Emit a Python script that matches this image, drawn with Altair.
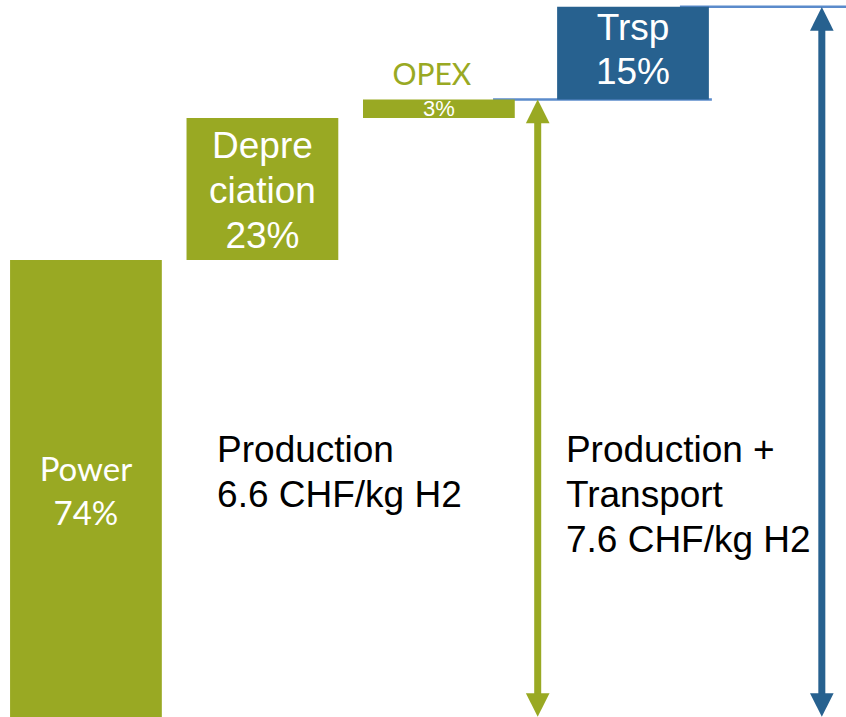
import altair as alt
import pandas as pd

# Cost build-up of hydrogen, as a share of the production cost (%)
categories = ["Power", "Depreciation", "OPEX", "Trsp"]
shares = [74, 23, 3, 15]
bar_labels = ["Power\n74%", "Depre\nciation\n23%", "3%", "Trsp\n15%"]
groups = ["production", "production", "production", "transport"]

production_text = "Production\n6.6 CHF/kg H2"
total_text = "Production +\nTransport\n7.6 CHF/kg H2"

# colours
GREEN = "#99A923"
BLUE = "#27618F"
LINE_BLUE = "#5B8BCB"

# horizontal layout, in column units (one column per cost step)
COL_START = [0, 1, 2, 3.1]
COL_WIDTH = 0.86
PROD_ARROW_X = 2.99
TOTAL_ARROW_X = 4.6
X_DOM = [-0.057, 4.737]
Y_DOM = [0, 116.1]

# waterfall: each step starts where the previous one ended
starts, ends, run = [], [], 0
for s in shares:
    starts.append(run)
    run += s
    ends.append(run)
production_level = ends[2]
total_level = ends[3]

bars = pd.DataFrame({
    "category": categories,
    "start": starts,
    "end": ends,
    "mid": [(a + b) / 2 for a, b in zip(starts, ends)],
    "x": COL_START,
    "x2": [c + COL_WIDTH for c in COL_START],
    "xc": [c + COL_WIDTH / 2 for c in COL_START],
    "group": groups,
    "label": bar_labels,
})

xs = alt.Scale(domain=X_DOM, nice=False, zero=False)
ys = alt.Scale(domain=Y_DOM, nice=False, zero=False)

# thin reference lines at the production and total levels
levels = pd.DataFrame({
    "x": [2.737, 3.796],
    "x2": [3.977, X_DOM[1]],
    "y": [production_level, total_level],
})
level_lines = alt.Chart(levels).mark_rule(color=LINE_BLUE, strokeWidth=2.5).encode(
    x=alt.X("x:Q", scale=xs, axis=None),
    x2="x2:Q",
    y=alt.Y("y:Q", scale=ys, axis=None),
)

bar_layer = alt.Chart(bars).mark_bar(cornerRadius=0).encode(
    x=alt.X("x:Q", scale=xs, axis=None),
    x2="x2:Q",
    y=alt.Y("start:Q", scale=ys, axis=None),
    y2="end:Q",
    color=alt.Color("group:N", scale=alt.Scale(domain=["production", "transport"],
                                               range=[GREEN, BLUE]), legend=None),
)


def bar_text(cat, font, size, line_height, dy=0, dx=0):
    # the first line sits on the bar centre; shift the block so it is centred
    n_lines = bar_labels[categories.index(cat)].count("\n") + 1
    return alt.Chart(bars).transform_filter(
        alt.datum.category == cat
    ).mark_text(
        font=font, fontSize=size, color="white", align="center",
        baseline="middle", lineBreak="\n", lineHeight=line_height,
        dy=dy - (n_lines - 1) * line_height / 2, dx=dx,
    ).encode(
        x=alt.X("xc:Q", scale=xs, axis=None),
        y=alt.Y("mid:Q", scale=ys, axis=None),
        text="label:N",
    )


power_text = bar_text("Power", "Lato", 33, 44, dy=5)
dep_text = bar_text("Depreciation", "Liberation Sans", 37, 45, dy=3)
opex_text = bar_text("OPEX", "Liberation Sans", 22, 24, dy=0)
trsp_text = bar_text("Trsp", "Liberation Sans", 37, 44, dy=-2)

opex_name = alt.Chart(bars).transform_filter(
    alt.datum.category == "OPEX"
).mark_text(
    font="Lato", fontSize=30, color=GREEN, align="center",
    baseline="alphabetic", dy=-14, dx=-7,
).encode(
    x=alt.X("xc:Q", scale=xs, axis=None),
    y=alt.Y("end:Q", scale=ys, axis=None),
    text=alt.value("OPEX"),
)

# annotations of the two totals
notes = pd.DataFrame({
    "x": [1.173, 3.15],
    "y": [41.3, 41.3],
    "text": [production_text, total_text],
})
note_layer = alt.Chart(notes).mark_text(
    font="Liberation Sans", fontSize=37, color="black", align="left",
    baseline="alphabetic", lineBreak="\n", lineHeight=45,
).encode(
    x=alt.X("x:Q", scale=xs, axis=None),
    y=alt.Y("y:Q", scale=ys, axis=None),
    text="text:N",
)

# double-headed arrows spanning production and production + transport
arrows = pd.DataFrame({
    "x": [PROD_ARROW_X, TOTAL_ARROW_X],
    "top": [production_level, total_level],
    "bottom": [0, 0],
    "group": ["production", "transport"],
})
arrow_color = alt.Color("group:N", scale=alt.Scale(domain=["production", "transport"],
                                                   range=[GREEN, BLUE]), legend=None)
shafts = alt.Chart(arrows).mark_rule(strokeWidth=7, yOffset=-20, y2Offset=20).encode(
    x=alt.X("x:Q", scale=xs, axis=None),
    y=alt.Y("bottom:Q", scale=ys, axis=None),
    y2="top:Q",
    color=arrow_color,
)
heads_up = alt.Chart(arrows).mark_point(
    shape="M0,-1L1,1L-1,1Z", size=560, filled=True, opacity=1, strokeWidth=0, yOffset=12,
).encode(
    x=alt.X("x:Q", scale=xs, axis=None),
    y=alt.Y("top:Q", scale=ys, axis=None),
    color=arrow_color,
)
heads_down = alt.Chart(arrows).mark_point(
    shape="M0,1L1,-1L-1,-1Z", size=560, filled=True, opacity=1, strokeWidth=0, yOffset=-12,
).encode(
    x=alt.X("x:Q", scale=xs, axis=None),
    y=alt.Y("bottom:Q", scale=ys, axis=None),
    color=arrow_color,
)

chart = alt.layer(
    level_lines, bar_layer, power_text, dep_text, opex_text, trsp_text, opex_name,
    note_layer, shafts, heads_up, heads_down,
).properties(
    width=846, height=717, padding=0,
    autosize=alt.AutoSizeParams(type="none"),
    background="white",
).configure_view(stroke=None)

chart.save("out.html", embed_options={"renderer": "svg", "actions": False})
